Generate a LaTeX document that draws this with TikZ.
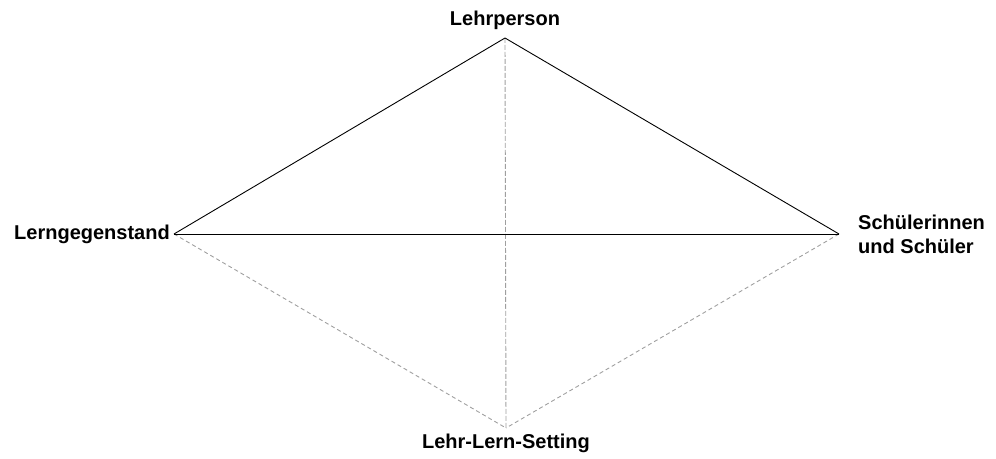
\documentclass[tikz,border=0pt]{standalone}
\usepackage{fontspec}
\setmainfont{Liberation Sans}
\usetikzlibrary{positioning}

\begin{document}
\begin{tikzpicture}[
  x=1pt, y=1pt,
  vlabel/.style={inner sep=0pt, font=\fontsize{20}{24}\selectfont\bfseries, align=left},
  solidline/.style={draw=black, line width=0.9pt},
  dashline/.style={draw=gray!75, line width=0.9pt, dash pattern=on 4pt off 3pt},
]
\useasboundingbox (0,0) rectangle (996,458);

\coordinate (lp) at (505,420);
\coordinate (lg) at (174,224);
\coordinate (su) at (839,224);
\coordinate (set) at (506,30);

\node[vlabel, above=8pt of lp] (lpLabel) {Lehrperson};
\node[vlabel, left=4pt of lg] (lgLabel) {Lerngegenstand};
\node[vlabel, right=19pt of su] (suLabel) {Schülerinnen\\und Schüler};
\node[vlabel, below=6pt of set] (setLabel) {Lehr-Lern-Setting};

\draw[dashline] (lg) -- (set);
\draw[dashline] (su) -- (set);
\draw[dashline, dash pattern=on 5pt off 2pt] (lp) -- (set);
\draw[solidline] (lg) -- (lp);
\draw[solidline] (lp) -- (su);
\draw[solidline] (lg) -- (su);
\end{tikzpicture}
\end{document}
